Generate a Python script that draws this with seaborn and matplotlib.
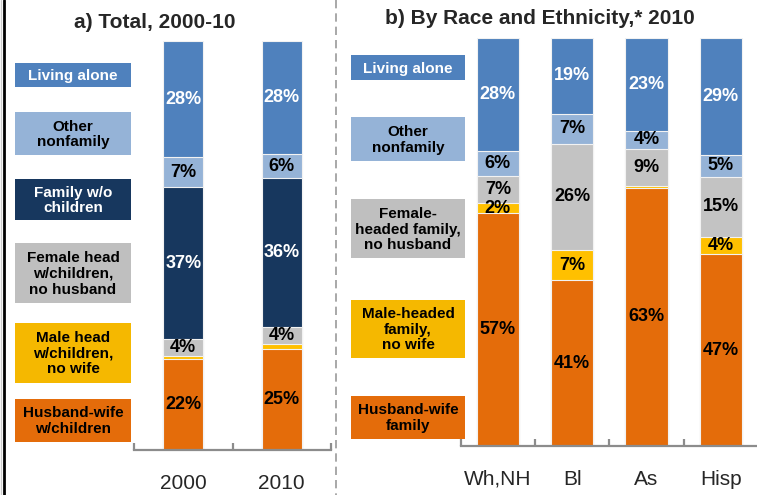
import matplotlib
matplotlib.use("Agg")
import matplotlib.pyplot as plt
import seaborn as sns
import numpy as np
from matplotlib.patches import Rectangle

# ---- data (shares in %, bottom segment first) ----
segments = ["Husband-wife", "Male head", "Female head", "Family w/o children",
            "Other nonfamily", "Living alone"]

years = ["2000", "2010"]
total_husband_wife = [22.2, 24.6]
total_male_head = [0.8, 1.4]
total_female_head = [4.2, 4.0]
total_family_no_kids = [37.0, 36.4]
total_other_nonfamily = [7.4, 5.9]
total_living_alone = [28.4, 27.7]

groups = ["Wh,NH", "Bl", "As", "Hisp"]
race_husband_wife = [57.0, 40.6, 63.3, 47.0]
race_male_head = [2.4, 7.4, 0.5, 4.1]
race_female_head = [6.8, 26.0, 9.0, 14.9]
race_other_nonfamily = [6.0, 7.4, 4.4, 5.3]
race_living_alone = [27.8, 18.6, 22.8, 28.7]

legend_a = ["Living alone", "Other\nnonfamily", "Family w/o\nchildren",
            "Female head\nw/children,\nno husband", "Male head\nw/children,\nno wife",
            "Husband-wife\nw/children"]
legend_b = ["Living alone", "Other\nnonfamily", "Female-\nheaded family,\nno husband",
            "Male-headed\nfamily,\nno wife", "Husband-wife\nfamily"]

# ---- styling ----
C_ALONE = "#4F81BD"
C_OTHER = "#95B3D7"
C_NAVY = "#17375E"
C_GREY = "#C3C3C3"
C_YELLOW = "#FFC000"
C_ORANGE = "#E46C0A"

sns.set_style("white")
plt.rcParams["font.family"] = ["Liberation Sans", "DejaVu Sans"]

W, H = 757, 495
fig = plt.figure(figsize=(W / 100, H / 100), dpi=100)

# overlay in pixel coordinates for frame lines and legend boxes
ov = fig.add_axes([0, 0, 1, 1])
ov.set_xlim(0, W)
ov.set_ylim(H, 0)
ov.axis("off")
ov.plot([0.5, 0.5], [0, H], color="#cccccc", lw=1)
ov.plot([4, 4], [0, H], color="black", lw=2)
ov.plot([336, 336], [0, H], color="#999999", lw=1.2, ls=(0, (5, 3)))

ov.text(155, 22, "a) Total, 2000-10", ha="center", va="center",
        fontsize=15, fontweight="bold")
ov.text(540, 19, "b) By Race and Ethnicity,* 2010", ha="center", va="center",
        fontsize=15, fontweight="bold")


def legend_boxes(labels, colors, txtcolors, ycenters, heights, x0, x1):
    for lab, c, tc, yc, h in zip(labels, colors, txtcolors, ycenters, heights):
        ov.add_patch(Rectangle((x0, yc - h / 2), x1 - x0, h, fc=c, ec="none"))
        ov.text((x0 + x1) / 2, yc + 1, lab, ha="center", va="center",
                fontsize=11, fontweight="bold", color=tc, linespacing=1.15)


legend_boxes(legend_a,
             [C_ALONE, C_OTHER, C_NAVY, "#BFBFBF", "#F5B800", C_ORANGE],
             ["white", "black", "white", "black", "black", "black"],
             [74.8, 133.5, 199.5, 273.0, 352.8, 420.3],
             [23.7, 43, 41, 59.4, 59.7, 42.7], 15, 131)
legend_boxes(legend_b,
             [C_ALONE, C_OTHER, "#BFBFBF", "#F5B800", C_ORANGE],
             ["white", "black", "black", "black", "black"],
             [67.5, 139.0, 228.7, 328.8, 417.2],
             [25, 44, 59.3, 57.7, 43], 351, 465)


def stacked(ax, cats, layers, colors, txtcolors, width):
    stack = np.cumsum(np.array(layers), axis=0)
    # draw tallest (top) first so lower layers sit on top of it
    for i in range(len(layers) - 1, -1, -1):
        sns.barplot(x=cats, y=stack[i], color=colors[i], width=width, ax=ax,
                    edgecolor="#f2f2f2", linewidth=0.8, saturation=1)
    for i, vals in enumerate(layers):
        for j, v in enumerate(vals):
            if v >= 2:
                ax.text(j, stack[i][j] - v / 2, f"{round(v)}%", ha="center",
                        va="center", fontsize=13, fontweight="bold",
                        color=txtcolors[i])
    n = len(cats)
    ax.set_ylim(0, 100)
    ax.set_yticks([])
    ax.set_ylabel("")
    ax.set_xlabel("")
    ax.set_facecolor("none")
    for s in ["top", "right", "left"]:
        ax.spines[s].set_visible(False)
    ax.spines["bottom"].set_color("#8c8c8c")
    ax.spines["bottom"].set_linewidth(1.6)
    ax.set_xticks(range(n))
    ax.set_xticklabels(cats, fontsize=15)
    ax.set_xticks(np.arange(n + 1) - 0.5, minor=True)
    ax.tick_params(axis="x", which="both", bottom=True)
    ax.tick_params(axis="x", which="major", length=0, pad=17)
    ax.tick_params(axis="x", which="minor", length=5, width=1.6,
                   color="#8c8c8c", direction="in")


ax1 = fig.add_axes([134 / W, 45 / H, 197 / W, 409 / H])
stacked(ax1, years,
        [total_husband_wife, total_male_head, total_female_head,
         total_family_no_kids, total_other_nonfamily, total_living_alone],
        [C_ORANGE, C_YELLOW, C_GREY, C_NAVY, C_OTHER, C_ALONE],
        ["black", "black", "black", "white", "black", "white"], 0.41)
ax1.set_xlim(-0.5, 1.5)

ax2 = fig.add_axes([460.7 / W, 49 / H, 296.3 / W, 408.3 / H])
stacked(ax2, groups,
        [race_husband_wife, race_male_head, race_female_head,
         race_other_nonfamily, race_living_alone],
        [C_ORANGE, C_YELLOW, C_GREY, C_OTHER, C_ALONE],
        ["black", "black", "black", "black", "white"], 0.57)
ax2.set_xlim(-0.5, 3.488)

fig.savefig("out.png", dpi=100)
